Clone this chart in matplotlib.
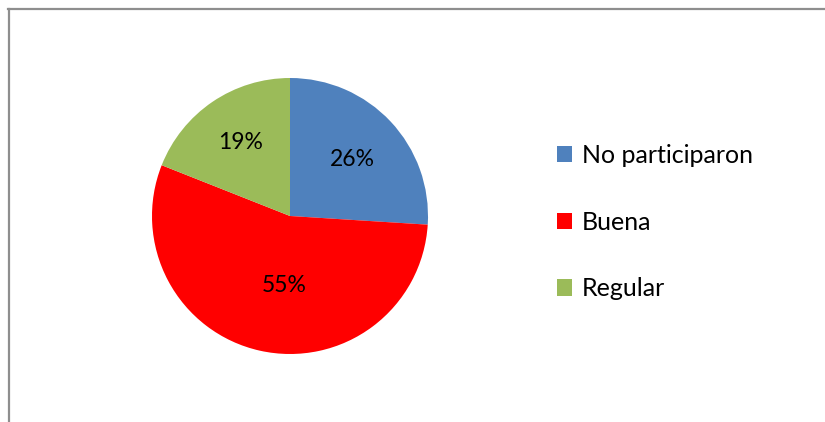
import matplotlib
matplotlib.use("Agg")
import matplotlib.pyplot as plt
from matplotlib.lines import Line2D

categories = ["No participaron", "Buena", "Regular"]
values = [26, 55, 19]
colors = ["#4F81BD", "#FF0000", "#9BBB59"]

W, H = 825, 422
fig = plt.figure(figsize=(W / 100, H / 100), dpi=100)
fig.patch.set_facecolor("white")
plt.rcParams["font.family"] = ["Lato", "DejaVu Sans"]

# border lines (top and left)
fig.add_artist(Line2D([8 / W, 1.0], [1 - 8.5 / H, 1 - 8.5 / H], transform=fig.transFigure,
                      color="#8e8e8e", lw=1.6))
fig.add_artist(Line2D([8.5 / W, 8.5 / W], [0, 1 - 8.5 / H], transform=fig.transFigure,
                      color="#8e8e8e", lw=1.6))

cx, cy, r = 290, 216, 138
ax = fig.add_axes([(cx - r) / W, (H - cy - r) / H, 2 * r / W, 2 * r / H])
wedges, texts, autotexts = ax.pie(values, colors=colors, startangle=90, counterclock=False,
                                  autopct="%d%%", pctdistance=0.62, radius=1,
                                  textprops=dict(fontsize=16.5, color="black"))
ax.set_xlim(-1, 1)
ax.set_ylim(-1, 1)
ax.set_aspect("equal")
# Excel-like label placement
autotexts[0].set_position((0.45, 0.41))
autotexts[1].set_position((-0.04, -0.5))
autotexts[2].set_position((-0.36, 0.53))

fig.legend(wedges, categories, loc="center left", bbox_to_anchor=(534 / W, 1 - 222 / H),
           frameon=False, fontsize=18, handlelength=0.62, handleheight=0.62,
           labelspacing=1.75, handletextpad=0.4)

fig.savefig("out.png", dpi=100)
